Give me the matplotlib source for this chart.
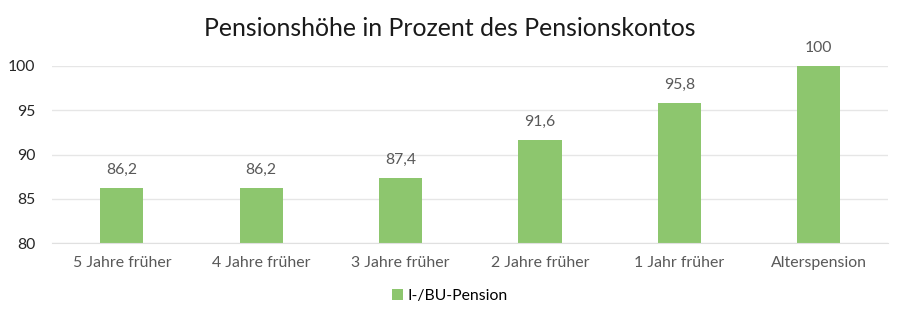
import matplotlib.pyplot as plt
import numpy as np

plt.rcParams['font.family'] = ['Lato', 'DejaVu Sans']

categories = ['5 Jahre früher', '4 Jahre früher', '3 Jahre früher',
              '2 Jahre früher', '1 Jahr früher', 'Alterspension']
values = [86.2, 86.2, 87.4, 91.6, 95.8, 100]
value_labels = ['86,2', '86,2', '87,4', '91,6', '95,8', '100']
series_name = 'I-/BU-Pension'

fig = plt.figure(figsize=(9, 3.17), dpi=100)
ax = fig.add_axes([0.058, 0.2334, 0.929, 0.5584])

x = np.arange(len(categories))
bars = ax.bar(x, values, 0.31, bottom=0, color='#8dc66e', label=series_name, zorder=2)
for xi, v, lab in zip(x, values, value_labels):
	ax.annotate(lab, (xi, v), xytext=(0, 8), textcoords='offset points',
				ha='center', va='bottom', fontsize=11.3, color='#595959')

ax.set_ylim(80, 100)
ax.set_xlim(-0.5, len(categories) - 0.5)
ax.set_yticks([80, 85, 90, 95, 100])
ax.set_xticks(x)
ax.set_xticklabels(categories, fontsize=11.4, color='#595959')
ax.tick_params(axis='y', labelsize=11.3, labelcolor='#262626', length=0, pad=12)
ax.tick_params(axis='x', length=0, pad=9)
ax.yaxis.grid(True, color='#e6e6e6', linewidth=1, zorder=0)
for s in ['top', 'right', 'left']:
	ax.spines[s].set_visible(False)
ax.spines['bottom'].set_color('#e0e0e0')
ax.set_axisbelow(True)

fig.suptitle('Pensionshöhe in Prozent des Pensionskontos', fontsize=17.9, color='#1a1a1a', y=0.945)
fig.legend(loc='lower center', bbox_to_anchor=(0.5, 0.0), frameon=False, fontsize=11.3,
		   handlelength=0.7, handleheight=0.7, handletextpad=0.3)

fig.savefig('out.png', dpi=100)
